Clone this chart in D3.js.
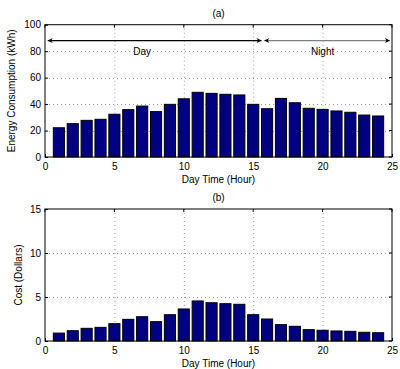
<!DOCTYPE html>
<html>
<head>
<meta charset="utf-8">
<script src="https://cdn.jsdelivr.net/npm/d3@7"></script>
<style>
  body { margin: 0; background: #fff; }
  svg { font-family: "Liberation Sans", Arial, sans-serif; }
  .tick text { font-size: 10px; fill: #000; }
  .label { font-size: 10px; fill: #000; }
  .grid line { stroke: #999; stroke-dasharray: 1 3; }
</style>
</head>
<body>
<svg id="chart" width="400" height="369"></svg>
<script>
// hours 1..24
var hours = d3.range(1, 25);
var energy = [22.1, 25.2, 27.7, 28.5, 32.3, 35.8, 38.5, 34.3, 39.8, 44.0, 48.9, 48.1,
              47.4, 46.9, 39.8, 36.5, 44.3, 41.0, 36.8, 36.0, 34.8, 33.8, 31.7, 31.0];
var cost = [0.9, 1.17, 1.44, 1.55, 1.97, 2.46, 2.76, 2.2, 2.99, 3.64, 4.55, 4.35,
            4.24, 4.17, 2.99, 2.5, 1.86, 1.67, 1.29, 1.22, 1.14, 1.1, 0.99, 0.94];
var xTicks = [0, 5, 10, 15, 20, 25];
var energyTicks = [0, 20, 40, 60, 80, 100];
var costTicks = [0, 5, 10, 15];
// day / night arrows: [start, end, label, label position]
var periods = [
  { "name": "Day", "from": 0.2, "to": 15.6, "labelX": 7, "color": "#000" },
  { "name": "Night", "from": 15.8, "to": 24.85, "labelX": 20, "color": "#808080" }
];
var arrowY = 88;
var periodLabelY = 79;

var svg = d3.select("#chart");

svg.append("defs").append("marker")
  .attr("id", "head")
  .attr("viewBox", "0 0 10 10")
  .attr("refX", 10)
  .attr("refY", 5)
  .attr("markerWidth", 7)
  .attr("markerHeight", 5)
  .attr("markerUnits", "userSpaceOnUse")
  .attr("orient", "auto-start-reverse")
  .append("path")
  .attr("d", "M0,0 L10,5 L0,10 L3,5 Z")
  .attr("fill", "#000");

var translate = function(x, y) { return "translate(" + x + "," + y + ")"; };

function drawPanel(p) {
  var x = d3.scaleLinear().domain([0, 25]).range([p.left, p.right]);
  var y = d3.scaleLinear().domain([0, p.max]).range([p.bottom, p.top]);
  var g = svg.append("g");

  // grid
  var grid = g.append("g").attr("class", "grid");
  grid.selectAll("line.v")
    .data(xTicks.slice(1, -1))
    .enter().append("line")
    .attr("x1", function(d) { return x(d) + 0.5; })
    .attr("x2", function(d) { return x(d) + 0.5; })
    .attr("y1", p.top).attr("y2", p.bottom);
  grid.selectAll("line.h")
    .data(p.ticks.slice(1, -1))
    .enter().append("line")
    .attr("y1", function(d) { return Math.round(y(d)) + 0.5; })
    .attr("y2", function(d) { return Math.round(y(d)) + 0.5; })
    .attr("x1", p.left).attr("x2", p.right);

  // bars, width 0.8 like matlab
  g.selectAll("rect.bar")
    .data(p.values)
    .enter().append("rect")
    .attr("class", "bar")
    .attr("x", function(d, i) { return x(hours[i] - 0.4); })
    .attr("width", x(0.8) - x(0))
    .attr("y", function(d) { return y(d); })
    .attr("height", function(d) { return y(0) - y(d); })
    .attr("fill", "#000080")
    .attr("stroke", "#000")
    .attr("stroke-width", 1);

  // axes, ticks pointing inside
  var ax = d3.axisBottom(x).tickValues(xTicks).tickSize(-3).tickPadding(6).tickSizeOuter(0);
  var gx = g.append("g").attr("transform", translate(0, p.bottom)).call(ax);
  gx.select(".domain").remove();
  gx.selectAll("line").attr("stroke", "#000");

  var ay = d3.axisLeft(y).tickValues(p.ticks).tickSize(-3).tickPadding(4).tickSizeOuter(0);
  var gy = g.append("g").attr("transform", translate(p.left, 0)).call(ay);
  gy.select(".domain").remove();
  gy.selectAll("line").attr("stroke", "#000");

  // right / top ticks
  g.selectAll("line.rt")
    .data(p.ticks)
    .enter().append("line")
    .attr("x1", p.right).attr("x2", p.right - 3)
    .attr("y1", function(d) { return y(d); })
    .attr("y2", function(d) { return y(d); })
    .attr("stroke", "#000");
  g.selectAll("line.tt")
    .data(xTicks)
    .enter().append("line")
    .attr("y1", p.top).attr("y2", p.top + 3)
    .attr("x1", function(d) { return x(d); })
    .attr("x2", function(d) { return x(d); })
    .attr("stroke", "#000");

  // box
  g.append("rect")
    .attr("x", p.left).attr("y", p.top)
    .attr("width", p.right - p.left).attr("height", p.bottom - p.top)
    .attr("fill", "none").attr("stroke", "#000");

  g.append("text").attr("class", "label")
    .attr("text-anchor", "middle")
    .attr("x", (p.left + p.right) / 2).attr("y", p.top - 8)
    .text(p.title);

  g.append("text").attr("class", "label")
    .attr("text-anchor", "middle")
    .attr("x", (p.left + p.right) / 2).attr("y", p.bottom + 26)
    .text("Day Time (Hour)");

  g.append("text").attr("class", "label")
    .attr("text-anchor", "middle")
    .attr("transform", translate(p.yLabelX, (p.top + p.bottom) / 2) + " rotate(-90)")
    .text(p.yLabel);

  return { "x": x, "y": y, "g": g };
}

var a = drawPanel({
  "left": 45, "right": 392, "top": 24.7, "bottom": 157,
  "max": 100, "ticks": energyTicks, "values": energy,
  "title": "(a)", "yLabel": "Energy Consumption (kWh)", "yLabelX": 15
});

a.g.selectAll("line.arrow")
  .data(periods)
  .enter().append("line")
  .attr("x1", function(d) { return a.x(d.from); })
  .attr("x2", function(d) { return a.x(d.to); })
  .attr("y1", a.y(arrowY)).attr("y2", a.y(arrowY))
  .attr("stroke", function(d) { return d.color; })
  .attr("stroke-width", 1.2)
  .attr("marker-start", "url(#head)")
  .attr("marker-end", "url(#head)");

a.g.selectAll("text.period")
  .data(periods)
  .enter().append("text")
  .attr("class", "label")
  .attr("text-anchor", "middle")
  .attr("x", function(d) { return a.x(d.labelX); })
  .attr("y", a.y(periodLabelY) + 3)
  .attr("fill", "#000")
  .text(function(d) { return d.name; });

drawPanel({
  "left": 45, "right": 392, "top": 209, "bottom": 341,
  "max": 15, "ticks": costTicks, "values": cost,
  "title": "(b)", "yLabel": "Cost (Dollars)", "yLabelX": 22
});
</script>
</body>
</html>
